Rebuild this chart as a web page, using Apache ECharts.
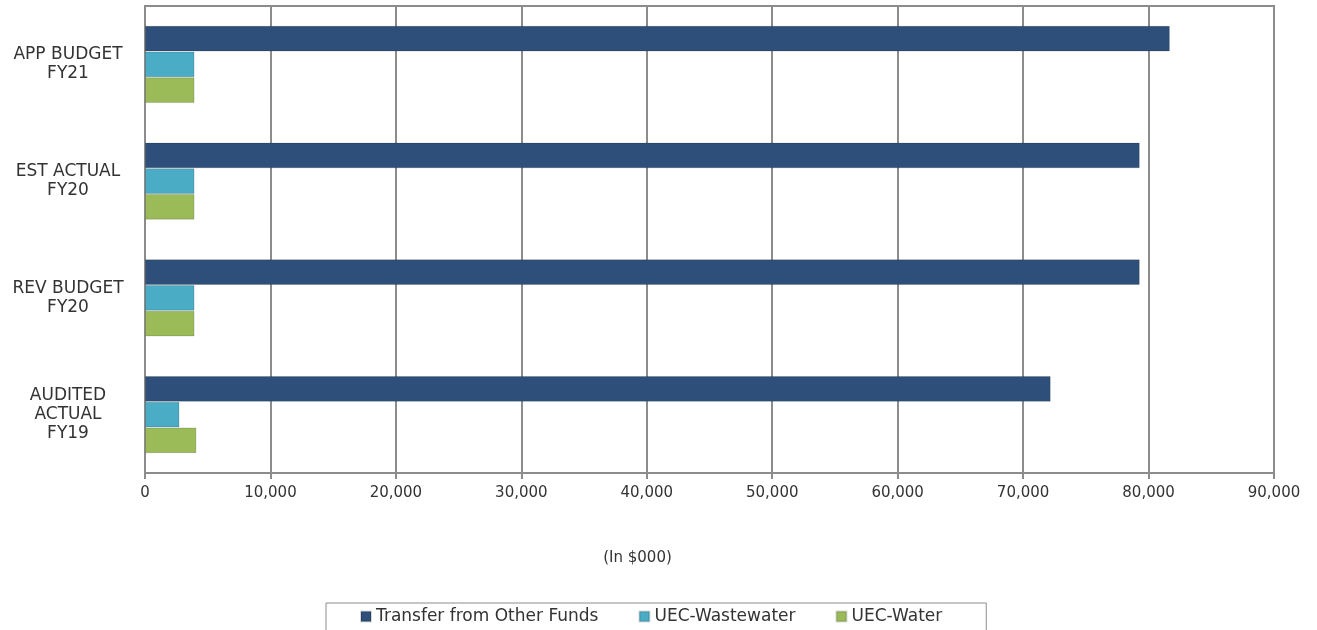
<!DOCTYPE html>
<html>
<head>
<meta charset="utf-8">
<title>Transfers chart</title>
<script src="https://cdn.jsdelivr.net/npm/echarts@6/dist/echarts.min.js"></script>
<style>
  html, body { margin: 0; padding: 0; background: #fff; }
  #chart { width: 1317px; height: 630px; }
</style>
</head>
<body>
<div id="chart"></div>
<script>
// categories top to bottom in the picture
const categories = ['APP BUDGET\nFY21', 'EST ACTUAL\nFY20', 'REV BUDGET\nFY20', 'AUDITED\nACTUAL\nFY19']
const transferFromOtherFunds = [81700, 79300, 79300, 72200]
const uecWastewater = [3950, 3950, 3950, 2750]
const uecWater = [3950, 3950, 3950, 4100]
const seriesNames = ['Transfer from Other Funds', 'UEC-Wastewater', 'UEC-Water']
const colors = ['#2d4f79', '#4aacc5', '#9bbb59']

const font = 'DejaVu Sans'
const chart = echarts.init(document.getElementById('chart'))

const barSeries = (name, data, color) => ({
  name,
  type: 'bar',
  data,
  barGap: 0,
  barCategoryGap: '34%',
  itemStyle: { color, borderColor: 'rgba(0,0,0,0.15)', borderWidth: 1 }
})

const option = {
  animation: false,
  textStyle: { fontFamily: font },
  grid: { left: 145, right: 43, top: 6, bottom: 157, containLabel: false, show: true, borderColor: '#8c8c8c', borderWidth: 2 },
  legend: {
    top: 603,
    left: 326,
    padding: [5, 44, 12, 34],
    itemWidth: 10,
    itemHeight: 10,
    itemGap: 40,
    icon: 'rect',
    borderColor: '#8c8c8c',
    borderWidth: 1,
    textStyle: { fontFamily: font, fontSize: 17, color: '#333' },
    data: seriesNames
  },
  xAxis: {
    type: 'value',
    min: 0,
    max: 90000,
    interval: 10000,
    name: '(In $000)',
    nameLocation: 'middle',
    nameGap: 78,
    nameTextStyle: { fontFamily: font, fontSize: 15, color: '#333', padding: [0, 144, 0, 0] },
    axisLine: { show: true, lineStyle: { color: '#8c8c8c', width: 2 } },
    axisTick: { show: true, length: 6, lineStyle: { color: '#8c8c8c', width: 2 } },
    axisLabel: {
      fontFamily: font, fontSize: 15, color: '#333', margin: 13,
      formatter: v => v.toLocaleString('en-US')
    },
    splitLine: { show: true, lineStyle: { color: '#8c8c8c', width: 2 } }
  },
  yAxis: {
    type: 'category',
    inverse: true,
    data: categories,
    axisLine: { show: true, lineStyle: { color: '#8c8c8c', width: 2 } },
    axisTick: { show: false },
    axisLabel: {
      fontFamily: font, fontSize: 17, color: '#333', align: 'center',
      margin: 77, lineHeight: 19
    }
  },
  series: [
    barSeries(seriesNames[0], transferFromOtherFunds, colors[0]),
    barSeries(seriesNames[1], uecWastewater, colors[1]),
    barSeries(seriesNames[2], uecWater, colors[2])
  ]
}

chart.setOption(option)
window.addEventListener('resize', () => chart.resize())
</script>
</body>
</html>
